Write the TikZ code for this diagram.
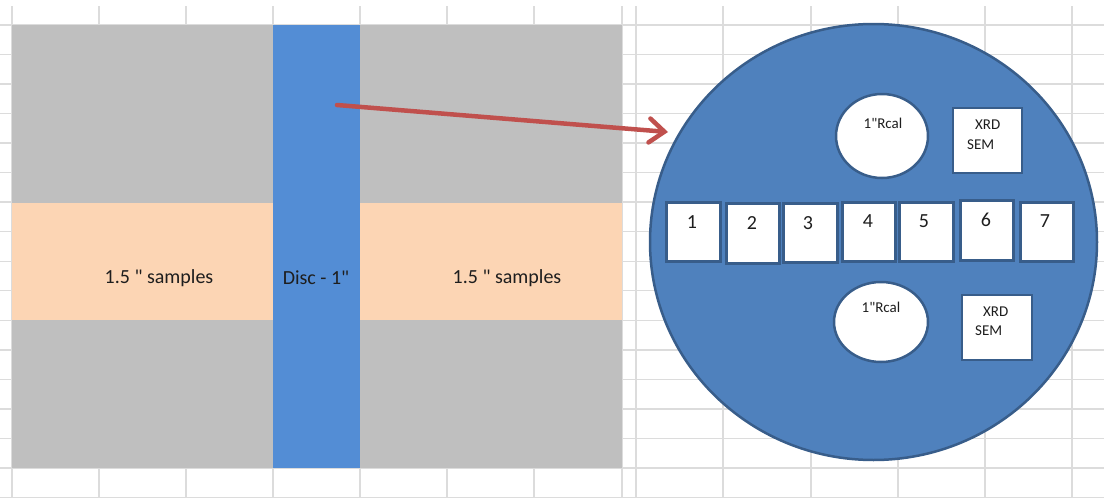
\documentclass[tikz,border=0pt]{standalone}
\usepackage{fontspec}
\setmainfont{Carlito}[Ligatures=TeXOff]
\usetikzlibrary{arrows.meta,shapes.geometric}

\definecolor{gridline}{HTML}{DCDCDC}
\definecolor{cellgray}{HTML}{BFBFBF}
\definecolor{cellpeach}{HTML}{FCD5B4}
\definecolor{cellblue}{HTML}{538DD5}
\definecolor{discfill}{HTML}{4F81BD}
\definecolor{discedge}{HTML}{385D8A}
\definecolor{arrowred}{HTML}{C0504D}
\definecolor{ink}{HTML}{1E1E1E}

\tikzset{
  gridrule/.style={draw=gridline, line width=1.4},
  region/.style={rectangle, inner sep=0, outer sep=0, draw=none},
  bigtext/.style={text=ink, inner sep=0, font=\fontsize{20}{24}\selectfont},
  smalltext/.style={text=ink, inner sep=0, font=\fontsize{15}{18}\selectfont},
  slot/.style={rectangle, fill=white, draw=discedge, line width=3, inner sep=0},
  calspot/.style={ellipse, fill=white, draw=discedge, line width=2.5, inner sep=0},
  pointer/.style={draw=arrowred, line width=4.5, line cap=round,
    -{Straight Barb[length=15, width=24, line cap=round]}},
}

\begin{document}
\begin{tikzpicture}[x=1pt, y=-1pt]
\useasboundingbox (0,0) rectangle (1104,498);
\fill[white] (0,0) rectangle (1104,498);

% spreadsheet grid
\foreach \x in {12,99,186,273,360,447,534,622,636,723,811,898,985,1072}
  \draw[gridrule] (\x,6) -- (\x,498);
\foreach \k in {0,...,16}
  \draw[gridrule] (0,{25+29.53*\k}) -- (1104,{25+29.53*\k});

% cut plan of the plate
\node[region, fill=cellgray, minimum width=610, minimum height=443] (plate) at (317,246.5) {};
\node[region, fill=cellpeach, minimum width=610, minimum height=117] (band) at (317,261.5) {};
\node[region, fill=cellblue, minimum width=87, minimum height=443] (strip) at (316.5,246.5) {};

\node[bigtext] (leftlbl) at (159,278) {1.5 " samples};
\node[bigtext] (rightlbl) at (507,278) {1.5 " samples};
\node[bigtext] (striplbl) at (316,278) {Disc - 1"};

% the disc
\node[ellipse, fill=discfill, draw=discedge, line width=2.5, inner sep=0,
      minimum width=447, minimum height=436] (disc) at (873.5,242) {};

% sample slots
\foreach \n/\cx/\cy/\w/\h/\tx/\ty in {
  1/693/231.5/54/59/692/222,
  2/752.5/233/53/60/752/223,
  3/810/232.5/54/59/808/223,
  4/868.5/231.5/53/59/868/221,
  5/926/231.5/54/59/924/221,
  6/986.5/230/53/60/986/220,
  7/1046.5/231.5/53/59/1045/221}{
  \node[slot, minimum width=\w, minimum height=\h] (s\n) at (\cx,\cy) {};
  \node[bigtext] (n\n) at (\tx,\ty) {\n};
}

% calibration spots
\node[calspot, minimum width=92, minimum height=84] (calA) at (882,136) {};
\node[smalltext] (calAlbl) at (883,123) {1"Rcal};
\node[calspot, minimum width=94, minimum height=80] (calB) at (881,322) {};
\node[smalltext] (calBlbl) at (881,307) {1"Rcal};

% XRD / SEM coupons
\node[slot, line width=2.5, minimum width=69, minimum height=65] (xrdA) at (987.5,140.5) {};
\node[smalltext, anchor=west] (xrdAt) at (975,125) {XRD};
\node[smalltext, anchor=west] (semAt) at (967,145) {SEM};
\node[slot, line width=2.5, minimum width=70, minimum height=65] (xrdB) at (997,327.5) {};
\node[smalltext, anchor=west] (xrdBt) at (983,312) {XRD};
\node[smalltext, anchor=west] (semBt) at (975,331) {SEM};

% pointer from the strip to the disc
\coordinate (pick) at (337,105);
\coordinate (tip) at (668,132);
\draw[pointer] (pick) -- (tip);
\end{tikzpicture}
\end{document}
